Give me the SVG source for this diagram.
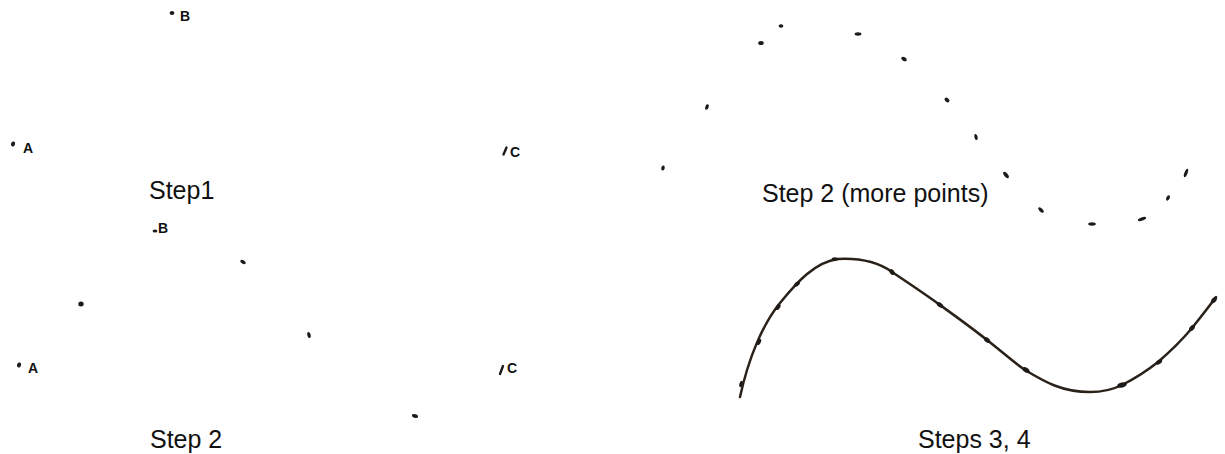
<svg xmlns="http://www.w3.org/2000/svg" width="1225" height="454" viewBox="0 0 1225 454">
<style>
.cap{font-family:"Liberation Sans",Arial,sans-serif;font-size:25px;fill:#111}
.lbl{font-family:"Liberation Sans",Arial,sans-serif;font-size:14px;font-weight:bold;fill:#111}
.dot{fill:#1e1a17}
.tick{stroke:#1e1a17;stroke-width:2.4;stroke-linecap:round}
.curve{fill:none;stroke:#2a2118;stroke-width:2.5;stroke-linecap:round;stroke-linejoin:round}
</style>
<rect width="1225" height="454" fill="#fff"/>
<g id="step1">
  <ellipse class="dot" cx="172" cy="13" rx="2.4" ry="2"/>
  <text class="lbl" x="180" y="21">B</text>
  <ellipse class="dot" cx="13" cy="144" rx="2" ry="2.6" transform="rotate(20 13 144)"/>
  <text class="lbl" x="23" y="153">A</text>
  <line class="tick" x1="503.5" y1="154.5" x2="506.5" y2="147.5"/>
  <text class="lbl" x="510" y="157">C</text>
  <text class="cap" x="149" y="199">Step1</text>
</g>
<g id="step2">
  <ellipse class="dot" cx="155" cy="231" rx="2.4" ry="1.6"/>
  <text class="lbl" x="158" y="233">B</text>
  <ellipse class="dot" cx="243" cy="262" rx="3" ry="1.8" transform="rotate(30 243 262)"/>
  <ellipse class="dot" cx="81" cy="304" rx="2.7" ry="2.5"/>
  <ellipse class="dot" cx="309" cy="335" rx="1.7" ry="3" transform="rotate(-15 309 335)"/>
  <ellipse class="dot" cx="19" cy="365" rx="2" ry="2.6" transform="rotate(20 19 365)"/>
  <text class="lbl" x="28" y="373">A</text>
  <line class="tick" x1="500" y1="374" x2="503" y2="366"/>
  <text class="lbl" x="507" y="373">C</text>
  <ellipse class="dot" cx="415" cy="416" rx="3.2" ry="1.8" transform="rotate(20 415 416)"/>
  <text class="cap" x="150" y="448">Step 2</text>
</g>
<g id="step2more">
  <ellipse class="dot" cx="781" cy="26" rx="2.4" ry="1.8"/>
  <ellipse class="dot" cx="858" cy="34" rx="3.4" ry="1.7"/>
  <ellipse class="dot" cx="761" cy="43" rx="2.8" ry="2.1"/>
  <ellipse class="dot" cx="904" cy="59" rx="3" ry="1.9" transform="rotate(30 904 59)"/>
  <ellipse class="dot" cx="947" cy="100" rx="2.8" ry="1.9" transform="rotate(40 947 100)"/>
  <ellipse class="dot" cx="707" cy="107" rx="1.7" ry="2.8" transform="rotate(20 707 107)"/>
  <ellipse class="dot" cx="976" cy="137" rx="1.6" ry="3" transform="rotate(-15 976 137)"/>
  <ellipse class="dot" cx="663" cy="168" rx="1.7" ry="2.6" transform="rotate(15 663 168)"/>
  <ellipse class="dot" cx="1006" cy="175" rx="1.8" ry="3.8" transform="rotate(-40 1006 175)"/>
  <ellipse class="dot" cx="1041" cy="210" rx="1.7" ry="3.4" transform="rotate(-45 1041 210)"/>
  <ellipse class="dot" cx="1092" cy="224" rx="3.8" ry="1.7"/>
  <ellipse class="dot" cx="1142" cy="219" rx="4.4" ry="1.7" transform="rotate(-20 1142 219)"/>
  <ellipse class="dot" cx="1168" cy="198" rx="1.7" ry="2.8" transform="rotate(30 1168 198)"/>
  <ellipse class="dot" cx="1186" cy="173" rx="1.6" ry="4.4" transform="rotate(20 1186 173)"/>
  <text class="cap" x="762" y="202">Step 2 (more points)</text>
</g>
<g id="step34">
  <path class="curve" d="M740,397 C748,360 762,325 780,303 C797,282 815,262 838,259 C858,258 878,262 892,272 C910,284 925,294 940,305 C958,318 972,328 987,340 C1000,350 1012,361 1025,370 C1045,382 1062,392 1090,392 C1105,392 1114,389 1122,385 C1136,378 1148,370 1158,362 C1172,350 1182,340 1192,328 C1200,318 1208,308 1216,297"/>
  <g class="dot">
    <ellipse cx="741" cy="384" rx="1.6" ry="3.2" transform="rotate(15 741 384)"/>
    <ellipse cx="759" cy="342" rx="1.8" ry="3.4" transform="rotate(25 759 342)"/>
    <ellipse cx="778" cy="307" rx="2" ry="3.4" transform="rotate(35 778 307)"/>
    <ellipse cx="797" cy="284" rx="2" ry="3.4" transform="rotate(50 797 284)"/>
    <ellipse cx="835" cy="259" rx="3.4" ry="1.8"/>
    <ellipse cx="892" cy="272" rx="2.2" ry="3.2" transform="rotate(-40 892 272)"/>
    <ellipse cx="940" cy="305" rx="3.6" ry="2.2" transform="rotate(35 940 305)"/>
    <ellipse cx="987" cy="340" rx="3.6" ry="2.2" transform="rotate(40 987 340)"/>
    <ellipse cx="1026" cy="370" rx="3.8" ry="2.4" transform="rotate(30 1026 370)"/>
    <ellipse cx="1122" cy="385" rx="4.8" ry="2.5" transform="rotate(-15 1122 385)"/>
    <ellipse cx="1159" cy="362" rx="3.6" ry="2" transform="rotate(-35 1159 362)"/>
    <ellipse cx="1192" cy="328" rx="3.6" ry="2.2" transform="rotate(-50 1192 328)"/>
    <ellipse cx="1214" cy="300" rx="3.6" ry="2.2" transform="rotate(-50 1214 300)"/>
  </g>
  <text class="cap" x="918" y="448">Steps 3, 4</text>
</g>
</svg>
